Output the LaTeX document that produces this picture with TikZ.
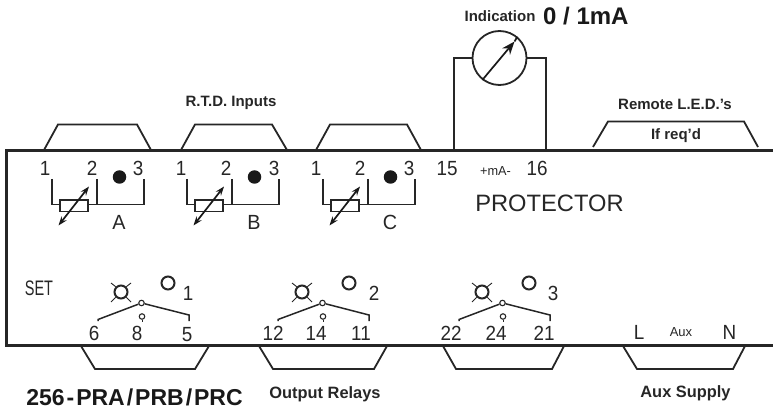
\documentclass[tikz,border=0pt]{standalone}
\usepackage{fontspec}
\setmainfont{Liberation Sans}
\usetikzlibrary{arrows.meta}
\tikzset{
 frameline/.style={line width=3pt,draw=black!85},
 conn/.style={line width=1.8pt,draw=black!85,line join=miter},
 wire/.style={line width=1.5pt,draw=black!85},
 thinwire/.style={line width=1pt,draw=black!85},
 num/.style={inner sep=0pt,font=\fontsize{20.5}{22}\selectfont,text=black!85,xscale=.92},
 captxt/.style={inner sep=0pt,font=\fontsize{15}{17}\bfseries\selectfont,text=black!85},
 capbig/.style={inner sep=0pt,font=\fontsize{16.4}{18}\bfseries\selectfont,text=black!85},
 lamp/.style={circle,draw=black!85,line width=2pt,fill=white,minimum size=13pt,inner sep=0pt},
 pinc/.style={circle,draw=black!85,line width=1.1pt,fill=white,minimum size=5.5pt,inner sep=0pt},
 rbox/.style={draw=black!85,line width=1.5pt,fill=white,minimum width=28pt,minimum height=11.5pt,inner sep=0pt},
 blackdot/.style={circle,fill=black!90,minimum size=13.5pt,inner sep=0pt},
 dbl/.style={line width=1.7pt,draw=black!90,{Stealth[length=9pt,width=6.5pt]}-{Stealth[length=9pt,width=6.5pt]}},
}
\newcommand{\rtd}[6]{% suffix, x offset, letter, letter x, lbl1 x, lbl2 x ; label 3 follows
 \begin{scope}[shift={(#2,0)}]
  \coordinate (a#1) at (52,179); \coordinate (ac#1) at (52,204.5);
  \coordinate (b#1) at (97,179); \coordinate (bc#1) at (97,204.5);
  \coordinate (c#1) at (144,179); \coordinate (cc#1) at (144,204.5);
  \node[rbox] (r#1) at (74,205.5) {};
  \draw[wire] (a#1) -- (ac#1) -- (r#1.west |- ac#1);
  \draw[wire] (r#1.east |- bc#1) -- (bc#1);
  \draw[wire] (b#1) -- (bc#1) -- (cc#1) -- (c#1);
  \coordinate (t#1) at (58.5,225.5); \coordinate (h#1) at (89,186.5);
  \draw[dbl] (t#1) -- (h#1);
  \node[blackdot] (d#1) at (119.5,177) {};
 \end{scope}
 \node[num] (l1#1) at (#5,168.5) {1};
 \node[num] (l2#1) at (#6,168.5) {2};
 \node[num,xscale=1.05] (ll#1) at (#4,222.5) {#3};
}
\newcommand{\relay}[9]{% suffix, off, lamp label, label x, L, M, R, left x, right x
 \begin{scope}[shift={(#2,0)}]
  \node[lamp] (x#1) at (121,292) {};
  \coordinate (x1#1) at (111,283); \coordinate (x2#1) at (131,283);
  \coordinate (x3#1) at (111,302); \coordinate (x4#1) at (131,302);
  \draw[wire,line width=.9pt] (x1#1) -- (x#1.135) (x2#1) -- (x#1.45) (x3#1) -- (x#1.225) (x4#1) -- (x#1.315);
  \node[lamp] (o#1) at (168,283) {};
  \node[pinc] (p#1) at (141.5,303) {};
  \node[pinc] (q#1) at (142,316.5) {};
  \coordinate (qe#1) at (142,322);
  \draw[thinwire] (q#1) -- (qe#1);
  \coordinate (lt#1) at (#8,321); \coordinate (lc#1) at (#8,319.5);
  \coordinate (rc#1) at (#9,315); \coordinate (rt#1) at (#9,321);
  \draw[wire] (lt#1) -- (lc#1) -- (p#1);
  \draw[wire] (p#1) -- (rc#1) -- (rt#1);
 \end{scope}
 \node[num] (n#1) at (#4,293) {#3};
 \node[num] (la#1) at (#5,333.5) {#6};
}
\begin{document}
\begin{tikzpicture}[x=1pt,y=-1pt]
\useasboundingbox (0,0) rectangle (773,414);
% frame
\coordinate (fr1) at (773,150.5); \coordinate (fr2) at (6.5,150.5);
\coordinate (fr3) at (6.5,345.5); \coordinate (fr4) at (773,345.5);
\draw[frameline] (fr1) -- (fr2) -- (fr3) -- (fr4);
% top connectors
\foreach \n/\a/\b/\c/\d in {A/44/58/137/151,B/181/195/272/287,C/316/330/407/421}{
 \coordinate (ta\n) at (\a,150); \coordinate (tb\n) at (\b,124.5);
 \coordinate (tc\n) at (\c,124.5); \coordinate (td\n) at (\d,150);
 \draw[conn] (ta\n) -- (tb\n) -- (tc\n) -- (td\n);
}
\coordinate (taR) at (593,147); \coordinate (tbR) at (608,121.5);
\coordinate (tcR) at (744,121.5); \coordinate (tdR) at (758,147);
\draw[conn] (taR) -- (tbR) -- (tcR) -- (tdR);
% bottom connectors
\foreach \n/\a/\b/\c/\d in {a/81/95/195/209,b/259/273/374/387,c/443/456/552/564,d/623/637/733/745}{
 \coordinate (ba\n) at (\a,346); \coordinate (bb\n) at (\b,369);
 \coordinate (bc\n) at (\c,369); \coordinate (bd\n) at (\d,346);
 \draw[conn] (ba\n) -- (bb\n) -- (bc\n) -- (bd\n);
}
% meter
\node[circle,draw=black!85,line width=1.8pt,minimum size=54pt,inner sep=0pt] (mtr) at (499.5,58) {};
\coordinate (ml) at (454,150); \coordinate (mlt) at (454,58);
\coordinate (mr) at (546,150); \coordinate (mrt) at (546,58);
\draw[conn] (ml) -- (mlt) -- (mtr.west);
\draw[conn] (mr) -- (mrt) -- (mtr.east);
\coordinate (mh) at (514.5,41.5);
\draw[line width=1.7pt,draw=black!90,-{Stealth[length=13pt,width=10pt]}] (mtr.232) -- (mh);
\draw[line width=1.7pt,draw=black!90] (mh) -- (mtr.50);
% RTD groups
\rtd{A}{0}{A}{119}{45}{92}
\node[num] (l3A) at (138,168.5) {3};
\rtd{B}{135}{B}{254}{181}{226}
\node[num] (l3B) at (274,168.5) {3};
\rtd{C}{271}{C}{390}{316}{360}
\node[num] (l3C) at (409,168.5) {3};
% relays
\relay{X}{0}{1}{188}{94}{6}{137}{98}{189}
\node[num] (mX) at (137,333.5) {8};
\node[num] (rX) at (187,334.5) {5};
\relay{Y}{181}{2}{374}{273}{12}{316}{97}{188}
\node[num] (mY) at (316,333.5) {14};
\node[num] (rY) at (361,333.5) {11};
\relay{Z}{361}{3}{553}{451}{22}{496}{98}{189}
\node[num] (mZ) at (496,333.5) {24};
\node[num] (rZ) at (544,333.5) {21};
% texts
\node[captxt] (trtd) at (231,103) {R.T.D. Inputs};
\node[captxt] (tind) at (500,16.5) {Indication};
\node[inner sep=0pt,font=\fontsize{24}{26}\bfseries\selectfont,text=black!90,anchor=west] (tma) at (543,16) {0 / 1mA};
\node[captxt] (trem) at (675,104) {Remote L.E.D.'s};
\node[captxt] (treq) at (676,135.5) {If req'd};
\node[num] (n15) at (447,168.5) {15};
\node[inner sep=0pt,font=\fontsize{13}{15}\selectfont,text=black!85,xscale=.98] (nma) at (495.5,171.5) {+mA-};
\node[num] (n16) at (537,168.5) {16};
\node[inner sep=0pt,font=\fontsize{23.7}{26}\selectfont,text=black!85] (prot) at (549.5,203.5) {PROTECTOR};
\node[inner sep=0pt,font=\fontsize{21}{23}\selectfont,text=black!85,xscale=.69] (set) at (39,288.5) {SET};
\node[inner sep=0pt,font=\fontsize{23}{25}\bfseries\selectfont,text=black!90] (code) at (134.5,397.5) {256\kern2pt-\kern2pt PRA\kern2pt/\kern2pt PRB\kern2pt/\kern2pt PRC};
\node[capbig] (tout) at (325,394) {Output Relays};
\node[capbig] (taux) at (685.5,393) {Aux Supply};
\node[num] (nL) at (639,332) {L};
\node[inner sep=0pt,font=\fontsize{13}{15}\selectfont,text=black!85] (nAux) at (681,332.5) {Aux};
\node[num] (nN) at (729.5,332) {N};
\end{tikzpicture}
\end{document}
